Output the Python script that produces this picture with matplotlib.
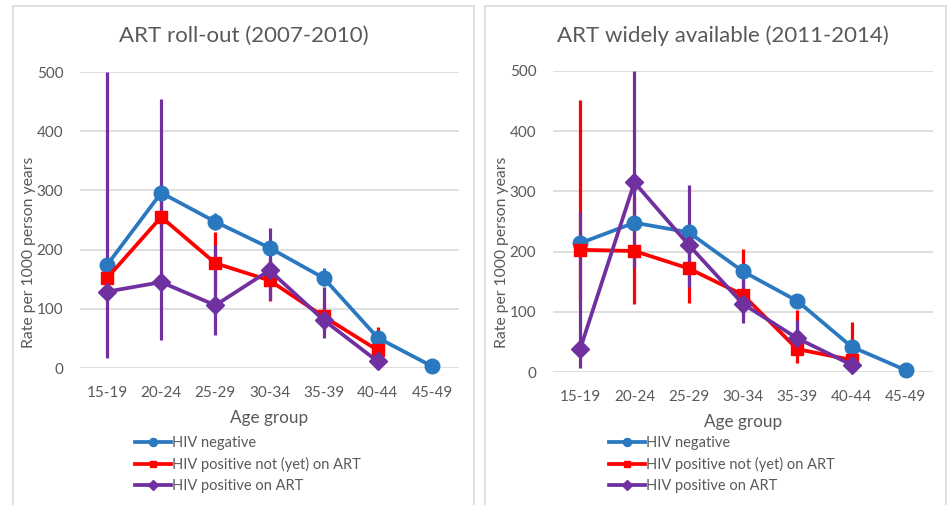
import numpy as np
import matplotlib
matplotlib.use("Agg")
import matplotlib.pyplot as plt
from matplotlib.patches import Rectangle

plt.rcParams.update({
    "font.family": ["Lato", "DejaVu Sans"],
    "text.color": "#595959",
    "axes.labelcolor": "#595959",
    "xtick.color": "#595959",
    "ytick.color": "#595959",
})

# ---- data -------------------------------------------------------------
age_groups = ["15-19", "20-24", "25-29", "30-34", "35-39", "40-44", "45-49"]
series_names = ["HIV negative", "HIV positive not (yet) on ART", "HIV positive on ART"]

# ART roll-out (2007-2010)
a_neg = [174, 296, 247, 203, 152, 51, 3]
a_neg_lo = [166, 288, 233, 195, 138, 44, 1]
a_neg_hi = [182, 303, 262, 211, 169, 58, 5]
a_not = [152, 255, 177, 148, 87, 30, np.nan]
a_not_lo = [120, 215, 127, 113, 65, 15, np.nan]
a_not_hi = [185, 300, 229, 185, 110, 70, np.nan]
a_on = [129, 145, 106, 165, 81, 11, np.nan]
a_on_lo = [17, 47, 56, 115, 51, 3, np.nan]
a_on_hi = [500, 454, 208, 236, 137, 22, np.nan]

# ART widely available (2011-2014)
b_neg = [214, 248, 232, 167, 118, 42, 3]
b_neg_lo = [206, 240, 224, 160, 111, 36, 1]
b_neg_hi = [222, 256, 240, 174, 125, 48, 5]
b_not = [203, 201, 172, 128, 38, 20, np.nan]
b_not_lo = [120, 113, 115, 95, 15, 5, np.nan]
b_not_hi = [452, 290, 230, 204, 103, 83, np.nan]
b_on = [38, 315, 211, 113, 56, 12, np.nan]
b_on_lo = [7, 175, 141, 81, 35, 4, np.nan]
b_on_hi = [266, 500, 311, 156, 86, 25, np.nan]

C_NEG = "#2a78c0"
C_NOT = "#ff0000"
C_ON = "#7030a0"
GRID = "#d9d9d9"
TXT = "#595959"

W, H = 948, 505
fig = plt.figure(figsize=(W / 100, H / 100), dpi=100)

# panel frames (Excel chart borders)
for x0, x1 in [(13, 474), (485, 946)]:
    fig.patches.append(Rectangle((x0 / W, -0.05), (x1 - x0) / W, (H - 6) / H + 0.05,
                                 transform=fig.transFigure, fill=False,
                                 ec=GRID, lw=1.2))


def panel(rect, title, neg, neg_lo, neg_hi, notart, not_lo, not_hi, onart, on_lo, on_hi,
          title_x, leg_xy, ylab_x):
    ax = fig.add_axes(rect)
    x = np.arange(len(age_groups))
    vals = [(neg, neg_lo, neg_hi, C_NEG, "o", 10.5),
            (notart, not_lo, not_hi, C_NOT, "s", 9.0),
            (onart, on_lo, on_hi, C_ON, "D", 9.0)]
    # error bars first, all beneath the lines
    for k, (v, lo, hi, c, m, ms) in enumerate(vals):
        v = np.asarray(v, float)
        err = np.vstack([v - np.asarray(lo, float), np.asarray(hi, float) - v])
        ax.errorbar(x, v, yerr=err, fmt="none", ecolor=c, elinewidth=2.3,
                    capsize=0, zorder=2 + k * 0.1)
    handles = []
    for k, ((v, lo, hi, c, m, ms), name) in enumerate(zip(vals, series_names)):
        h, = ax.plot(x, v, color=c, lw=2.7, marker=m, ms=ms, mec=c, mfc=c,
                     label=name, zorder=4 + k, clip_on=False)
        handles.append(h)

    ax.set_xlim(-0.5, len(age_groups) - 0.5)
    ax.set_ylim(0, 500)
    ax.set_yticks(range(0, 501, 100))
    ax.set_xticks(x)
    ax.set_xticklabels(age_groups)
    ax.tick_params(axis="both", length=0, labelsize=11)
    ax.tick_params(axis="x", pad=13)
    ax.tick_params(axis="y", pad=12)
    ax.yaxis.grid(True, color=GRID, lw=1.2)
    ax.set_axisbelow(True)
    for s in ax.spines.values():
        s.set_visible(False)
    ax.set_xlabel("Age group", fontsize=12.3, labelpad=7)
    ax.set_ylabel("Rate per 1000 person years", fontsize=11.3)
    ax.yaxis.set_label_coords(ylab_x, 0.5, transform=fig.transFigure)
    fig.text(title_x / W, 1 - 36 / H, title, ha="center", va="center",
             fontsize=16, color=TXT)
    leg = ax.legend(handles=handles, loc="upper left",
                    bbox_to_anchor=(leg_xy[0] / W, 1 - leg_xy[1] / H),
                    bbox_transform=fig.transFigure, frameon=False, fontsize=10.5,
                    handlelength=2.5, handletextpad=0.05, labelspacing=0.47,
                    borderpad=0, borderaxespad=0, markerscale=0.55)
    for t in leg.get_texts():
        t.set_color(TXT)
    return ax


panel([80 / W, (H - 368) / H, 379 / W, 296 / H], "ART roll-out (2007-2010)",
      a_neg, a_neg_lo, a_neg_hi, a_not, a_not_lo, a_not_hi, a_on, a_on_lo, a_on_hi,
      244, (135, 436), 36 / W)
panel([553 / W, (H - 372) / H, 380 / W, 301 / H], "ART widely available (2011-2014)",
      b_neg, b_neg_lo, b_neg_hi, b_not, b_not_lo, b_not_hi, b_on, b_on_lo, b_on_hi,
      723, (609, 436), 509 / W)

fig.savefig("out.png", dpi=100)
